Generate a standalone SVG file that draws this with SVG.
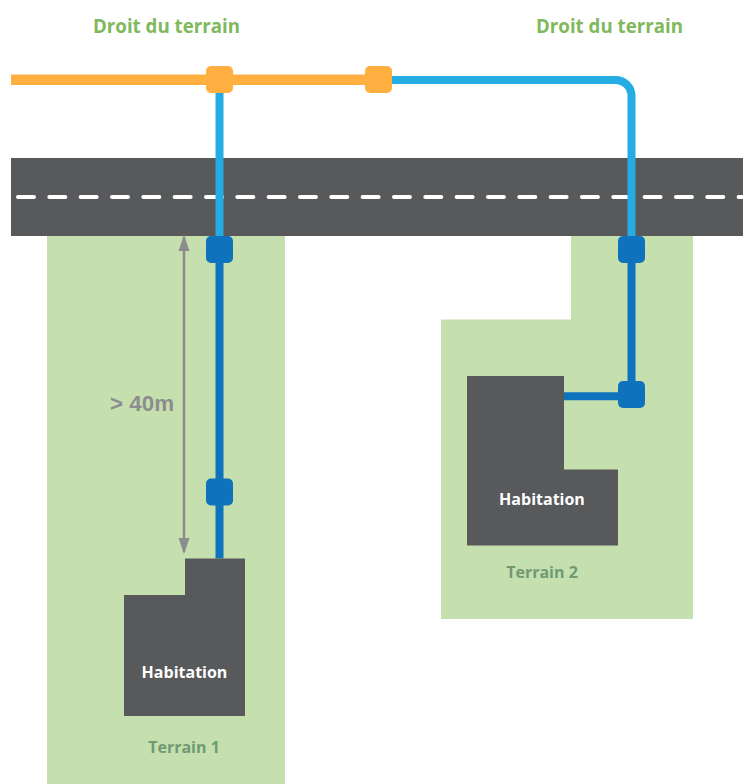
<svg xmlns="http://www.w3.org/2000/svg" width="747" height="784" viewBox="0 0 747 784">
<style>
text{font-family:"Open Sans","Noto Sans",sans-serif;font-weight:700;text-anchor:middle}
.land{fill:#c6dfae}
.house{fill:#58595b}
.title{font-size:18.7px;fill:#80b85c}
.hab{font-size:16px;fill:#fff}
.ter{font-size:16px;fill:#6f9a75}
.orange{fill:#ffaf40}
.blue{fill:#0f72bc}
.wire{fill:none;stroke-width:8}
.light{stroke:#25ace2}
.dark{stroke:#0f72bc}
</style>
<defs>
<marker id="ah" markerUnits="userSpaceOnUse" markerWidth="16" markerHeight="12" refX="14" refY="6" viewBox="0 0 16 12" orient="auto-start-reverse"><path d="M0 0.500L16 6L0 11.500Z" fill="#8c8c8e"/></marker>
</defs>
<rect width="747" height="784" fill="#fff"/>
<g id="terrain-1"><rect class="land" x="47" y="236" width="238" height="548"/><text class="ter" x="184" y="753">Terrain 1</text></g>
<g id="terrain-2"><path class="land" d="M571 236H693V619H441V319.500H571Z"/><text class="ter" x="542" y="578">Terrain 2</text></g>
<g id="road"><rect class="house" x="11" y="158" width="732" height="78"/><path d="M18 197H743" stroke="#fff" stroke-width="4" stroke-linecap="round" stroke-dasharray="16 15.330" fill="none"/></g>
<g id="connectors">
<path d="M11 79.700H206M233 79.700H365" fill="none" stroke="#ffaf40" stroke-width="10.500"/>
<path class="wire light" d="M219.500 93V236"/>
<path class="wire light" d="M392 80H615.500A16 16 0 0 1 631.500 96V236"/>
<path class="wire dark" d="M219.500 263V558.500"/>
<path class="wire dark" d="M631.500 263V381"/>
<path class="wire dark" d="M564 396.300H618"/>
<path d="M184 237V552" stroke="#8c8c8e" stroke-width="2.500" fill="none" marker-start="url(#ah)" marker-end="url(#ah)"/>
</g>
<g id="habitation-1"><path class="house" d="M185 558.500H245V716H124V595H185Z"/><text class="hab" x="184.500" y="678">Habitation</text></g>
<g id="habitation-2"><path class="house" d="M467 376H564V469.500H618V545.500H467Z"/><text class="hab" x="542" y="505">Habitation</text></g>
<g id="node-o1"><rect class="orange" x="206" y="66" width="27" height="27" rx="5"/></g>
<g id="node-o2"><rect class="orange" x="365" y="66" width="27" height="27" rx="5"/></g>
<g id="node-b1"><rect class="blue" x="206" y="236" width="27" height="27" rx="5"/></g>
<g id="node-b2"><rect class="blue" x="206" y="478.500" width="27" height="27" rx="5"/></g>
<g id="node-b3"><rect class="blue" x="618" y="236" width="27" height="27" rx="5"/></g>
<g id="node-b4"><rect class="blue" x="618" y="381" width="27" height="27" rx="5"/></g>
<g id="label-droit-1"><text class="title" x="166.500" y="33">Droit du terrain</text></g>
<g id="label-droit-2"><text class="title" x="609.500" y="33">Droit du terrain</text></g>
<g id="label-distance"><text x="142" y="411" font-size="22.400px" fill="#8c8c8e" style="font-family:'Liberation Sans',Arial,sans-serif">&gt; 40m</text></g>
</svg>
